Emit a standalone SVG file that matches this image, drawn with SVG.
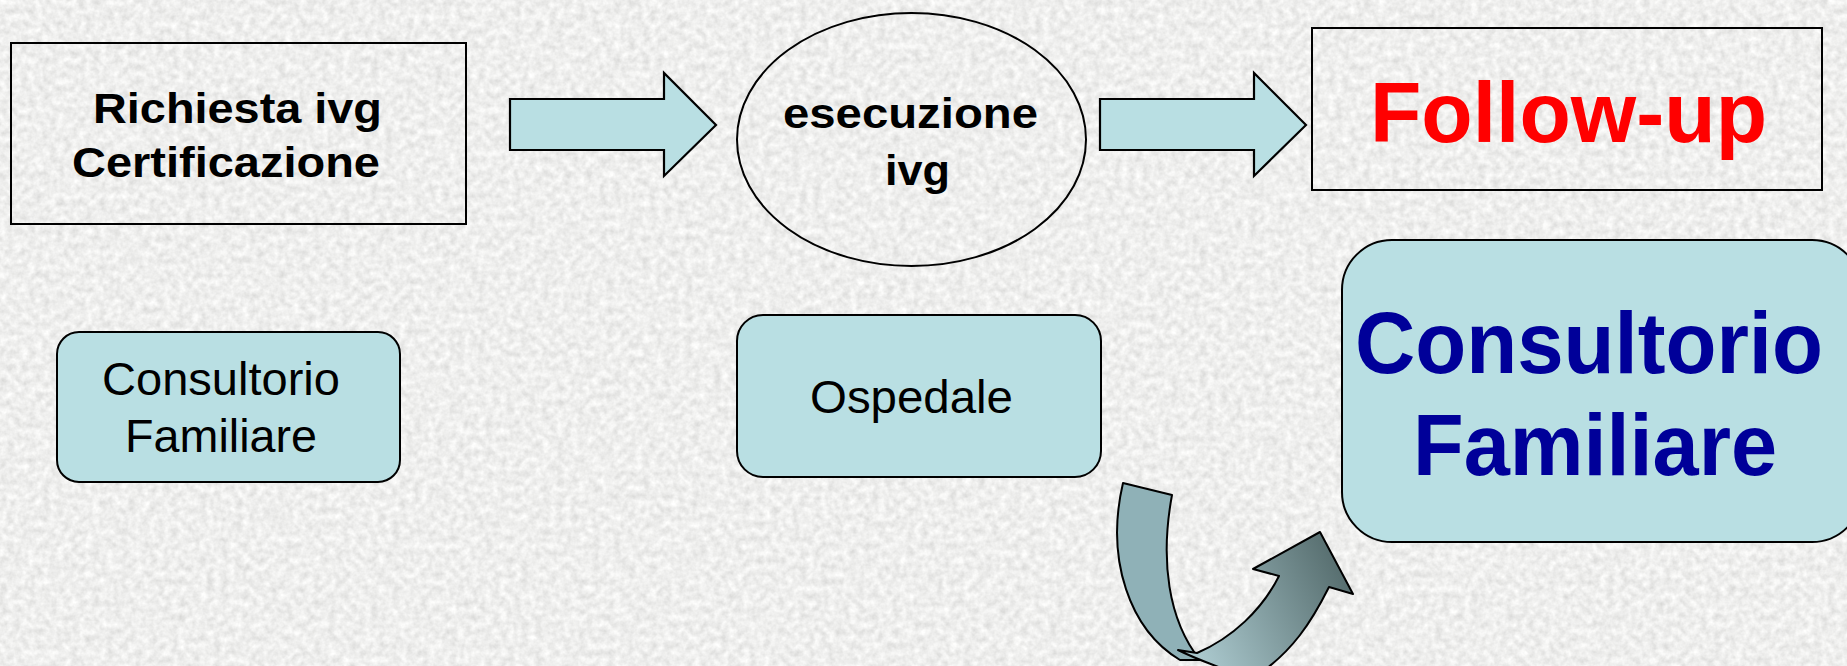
<svg xmlns="http://www.w3.org/2000/svg" width="1847" height="666" viewBox="0 0 1847 666">
  <defs>
    <filter id="tex" x="0" y="0" width="100%" height="100%" filterUnits="userSpaceOnUse">
      <feTurbulence type="fractalNoise" baseFrequency="0.14" numOctaves="3" seed="5"/>
      <feColorMatrix type="matrix" values="0.38 0 0 0 0.67  0.38 0 0 0 0.67  0.38 0 0 0 0.66  0 0 0 0 1"/>
    </filter>
    <linearGradient id="curveGrad" gradientUnits="userSpaceOnUse" x1="1195" y1="640" x2="1345" y2="570">
      <stop offset="0" stop-color="#a9c7cc"/>
      <stop offset="1" stop-color="#566d6e"/>
    </linearGradient>
    <style>
      .frame { fill: none; stroke: #000; stroke-width: 2; }
      .card { fill: #b9dfe3; stroke: #000; stroke-width: 2; }
      .blk { fill: #b9dfe3; stroke: #000; stroke-width: 2.2; stroke-linejoin: miter; }
      .curve { stroke: #000; stroke-width: 2; stroke-linejoin: round; }
      .bold { font-family: "Liberation Sans", Arial, sans-serif; font-weight: bold; fill: #000; }
      .reg { font-family: "Liberation Sans", Arial, sans-serif; fill: #000; }
    </style>
  </defs>

  <rect x="0" y="0" width="1847" height="666" fill="#dcdcdc" filter="url(#tex)"/>

  <g id="node-richiesta">
    <rect class="frame" x="11" y="43" width="455" height="181"/>
    <text class="bold" x="93" y="123" font-size="42" textLength="289" lengthAdjust="spacingAndGlyphs">Richiesta ivg</text>
    <text class="bold" x="72" y="177" font-size="42" textLength="308" lengthAdjust="spacingAndGlyphs">Certificazione</text>
  </g>

  <g id="node-esecuzione">
    <ellipse class="frame" cx="911.5" cy="139.5" rx="174.5" ry="126.5"/>
    <text class="bold" x="783" y="128" font-size="42" textLength="255" lengthAdjust="spacingAndGlyphs">esecuzione</text>
    <text class="bold" x="885" y="185" font-size="42" textLength="65" lengthAdjust="spacingAndGlyphs">ivg</text>
  </g>

  <g id="node-followup">
    <rect class="frame" x="1312" y="28" width="510" height="162"/>
    <text x="1370" y="142" font-size="86" font-family="Liberation Sans, Arial, sans-serif" font-weight="bold" fill="#ff0000" textLength="397" lengthAdjust="spacingAndGlyphs">Follow-up</text>
  </g>

  <g id="node-consultorio-small">
    <rect class="card" x="57" y="332" width="343" height="150" rx="22" ry="22"/>
    <text class="reg" x="102" y="395" font-size="46" textLength="238" lengthAdjust="spacingAndGlyphs">Consultorio</text>
    <text class="reg" x="125" y="452" font-size="46" textLength="192" lengthAdjust="spacingAndGlyphs">Familiare</text>
  </g>

  <g id="node-ospedale">
    <rect class="card" x="737" y="315" width="364" height="162" rx="26" ry="26"/>
    <text class="reg" x="810" y="413" font-size="46" textLength="203" lengthAdjust="spacingAndGlyphs">Ospedale</text>
  </g>

  <g id="node-consultorio-big">
    <rect class="card" x="1342" y="240" width="520" height="302" rx="50" ry="50"/>
    <text x="1355" y="373" font-size="88" font-family="Liberation Sans, Arial, sans-serif" font-weight="bold" fill="#000099" textLength="468" lengthAdjust="spacingAndGlyphs">Consultorio</text>
    <text x="1413" y="475" font-size="88" font-family="Liberation Sans, Arial, sans-serif" font-weight="bold" fill="#000099" textLength="364" lengthAdjust="spacingAndGlyphs">Familiare</text>
  </g>

  <g id="connectors">
    <path class="blk" d="M510,99 L664,99 L664,73 L716,125 L664,176 L664,150 L510,150 Z"/>
    <path class="blk" d="M1100,99 L1254,99 L1254,73 L1306,125 L1254,176 L1254,150 L1100,150 Z"/>
    <path class="curve" fill="#8fb1b7" d="M1123,483 L1172,495 C1160,560 1168,620 1200,660 L1180,660 C1130,630 1105,560 1123,483 Z"/>
    <path class="curve" fill="url(#curveGrad)" d="M1178,650 L1197,653 C1232,638 1262,610 1279,576 L1253,569 L1320,532 L1353,594 L1329,587 C1310,625 1292,650 1262,672 L1232,672 C1210,664 1192,657 1178,650 Z"/>
  </g>
</svg>
